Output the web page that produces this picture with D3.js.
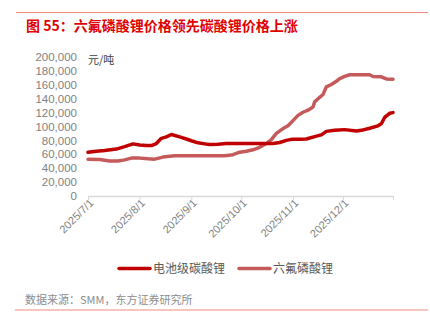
<!DOCTYPE html>
<html><head><meta charset="utf-8">
<script src="https://cdn.jsdelivr.net/npm/d3@7/dist/d3.min.js"></script>
<style>
html,body{margin:0;padding:0;background:#fff;}
svg{display:block;font-family:"Liberation Sans","Noto Sans CJK SC",Arial,sans-serif;}
</style></head><body>
<svg id="c" width="430" height="332"></svg>
<script>
const title = "图 55：六氟磷酸锂价格领先碳酸锂价格上涨";
const source = "数据来源：SMM，东方证券研究所";
const unitLabel = "元/吨";
const seriesNames = ["电池级碳酸锂", "六氟磷酸锂"];
const seriesColors = ["#C00000", "#C55A5A"];
const yTicks = [0,20000,40000,60000,80000,100000,120000,140000,160000,180000,200000];
const xTickLabels = ["2025/7/1","2025/8/1","2025/9/1","2025/10/1","2025/11/1","2025/12/1"];

const carbonateDates = ["2025-07-01","2025-07-06","2025-07-11","2025-07-18","2025-07-23","2025-07-28","2025-08-01","2025-08-05","2025-08-08","2025-08-11","2025-08-14","2025-08-17","2025-08-20","2025-08-25","2025-08-29","2025-09-01","2025-09-05","2025-09-09","2025-09-12","2025-09-17","2025-09-22","2025-09-30","2025-10-12","2025-10-20","2025-10-24","2025-10-28","2025-10-31","2025-11-05","2025-11-09","2025-11-14","2025-11-18","2025-11-21","2025-11-26","2025-12-02","2025-12-09","2025-12-12","2025-12-17","2025-12-22","2025-12-24","2025-12-26","2025-12-29","2025-12-31"];
const carbonateValues = [63000,64500,65500,67500,71000,75000,73500,72500,72500,75500,83000,85000,88500,85000,82000,79500,76500,75000,74000,74500,75500,75500,75500,75500,77000,80000,81500,81500,82000,85500,88000,93000,94500,95500,93500,94500,97500,101000,104000,113000,119000,120000];

const lipf6Dates = ["2025-07-01","2025-07-08","2025-07-14","2025-07-19","2025-07-23","2025-07-27","2025-08-01","2025-08-06","2025-08-10","2025-08-15","2025-08-22","2025-08-31","2025-09-06","2025-09-15","2025-09-21","2025-09-26","2025-09-30","2025-10-04","2025-10-08","2025-10-12","2025-10-16","2025-10-19","2025-10-22","2025-10-26","2025-10-29","2025-11-01","2025-11-04","2025-11-07","2025-11-10","2025-11-13","2025-11-14","2025-11-17","2025-11-19","2025-11-21","2025-11-24","2025-11-27","2025-11-29","2025-12-02","2025-12-05","2025-12-12","2025-12-17","2025-12-19","2025-12-24","2025-12-27","2025-12-31"];
const lipf6Values = [52800,52500,50500,50500,52000,54500,54500,53500,53000,56000,58000,58000,57800,57800,58000,59500,63000,64500,66500,70000,75500,81000,90000,97000,101000,108500,116000,120500,123500,128000,135500,142000,146000,157000,160500,165000,169000,172000,174500,174500,174500,172000,171500,168500,168000];

const parse = d3.timeParse("%Y-%m-%d");
const series = [
  carbonateDates.map((d,i)=>({date:parse(d), value:carbonateValues[i]})),
  lipf6Dates.map((d,i)=>({date:parse(d), value:lipf6Values[i]}))
];

const svg = d3.select("#c");
// top & bottom rules
svg.append("line").attr("x1",16).attr("x2",428).attr("y1",12.5).attr("y2",12.5).attr("stroke","#F08A80").attr("stroke-width",1.2);
svg.append("line").attr("x1",15).attr("x2",428).attr("y1",310).attr("y2",310).attr("stroke","#F08A80").attr("stroke-width",1.2);
svg.append("text").attr("x",26).attr("y",31).attr("fill","#E00000").attr("font-size",14).attr("font-weight","bold")
  .attr("font-family","'Noto Sans CJK SC',sans-serif").text(title);
svg.append("text").attr("x",25).attr("y",304).attr("fill","#8C8C8C").attr("font-size",11)
  .attr("font-family","'Noto Sans CJK SC',sans-serif").text(source);

const x = d3.scaleTime().domain([parse("2025-07-01"), parse("2025-12-31")]).range([88, 393]);
const y = d3.scaleLinear().domain([0,200000]).range([196, 57]);

// y axis labels
const yg = svg.append("g").attr("transform","translate(77,0)");
yg.call(d3.axisLeft(y).tickValues(yTicks).tickSize(0).tickPadding(0).tickFormat(d3.format(",")));
yg.select(".domain").remove();
yg.selectAll("text").attr("fill","#7F7F7F").attr("font-size",11.5).attr("font-family","'Liberation Sans',Arial,sans-serif");

svg.append("text").attr("x",88).attr("y",64).attr("fill","#404040").attr("font-size",11)
  .attr("font-family","'Noto Sans CJK SC',sans-serif").text(unitLabel);

// x axis
const tickDates = xTickLabels.map(s=>d3.timeParse("%Y/%m/%d")(s)).concat([parse("2025-12-31")]);
const xg = svg.append("g").attr("transform","translate(0,196)");
xg.call(d3.axisBottom(x).tickValues(tickDates).tickSize(4).tickSizeOuter(0)
  .tickFormat((d,i)=> i < xTickLabels.length ? xTickLabels[i] : ""));
xg.select(".domain").attr("stroke","#D9D9D9").attr("stroke-width",1.5);
xg.selectAll(".tick line").attr("stroke","#D9D9D9");
xg.selectAll("text").attr("fill","#7F7F7F").attr("font-size",11).attr("font-family","'Liberation Sans',Arial,sans-serif")
  .attr("text-anchor","end").attr("dy","0.35em").attr("transform","translate(3,5) rotate(-45)").attr("y",0).attr("x",0);

// lines
const line = d3.line().x(d=>x(d.date)).y(d=>y(d.value)).curve(d3.curveLinear);
[1,0].forEach(i=>{
  svg.append("path").datum(series[i]).attr("d",line).attr("fill","none")
    .attr("stroke",seriesColors[i]).attr("stroke-width",3.5).attr("stroke-linejoin","round").attr("stroke-linecap","round");
});

// legend
const lg = svg.append("g");
const legendPos = [{sx:119, tx:153},{sx:239, tx:273}];
seriesNames.forEach((n,i)=>{
  lg.append("line").attr("x1",legendPos[i].sx).attr("x2",legendPos[i].sx+31).attr("y1",268.5).attr("y2",268.5)
    .attr("stroke",seriesColors[i]).attr("stroke-width",3.5).attr("stroke-linecap","round");
  lg.append("text").attr("x",legendPos[i].tx).attr("y",273).attr("fill","#595959").attr("font-size",12)
    .attr("font-family","'Noto Sans CJK SC',sans-serif").text(n);
});
</script>
</body></html>
